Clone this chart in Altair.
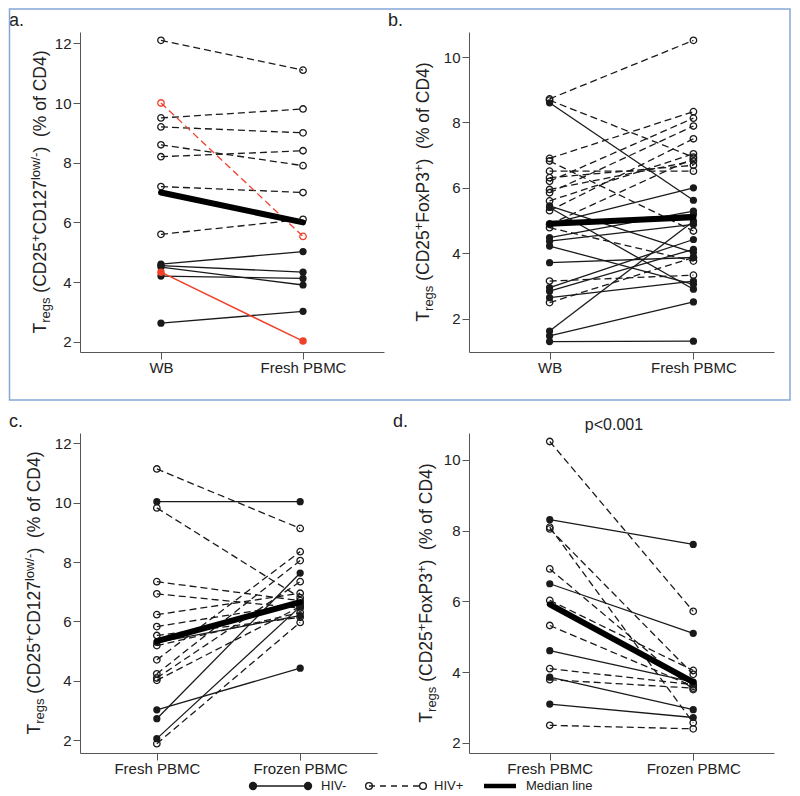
import altair as alt
import pandas as pd

FONT = "Liberation Sans"
INK = "#1a1a1a"
RED = "#f0402a"
AXIS = "#555555"
LABEL = "#222222"
BORDER = "#86a6d8"

# ---------------- data ----------------
# Panel a: WB vs Fresh PBMC, Tregs CD25+CD127low/-
a_conds = ["WB", "Fresh PBMC"]
a_neg_pre = [4.60, 4.55, 4.50, 4.20, 2.62]
a_neg_post = [5.02, 4.33, 3.90, 4.12, 3.02]
a_pos_pre = [12.1, 9.5, 9.2, 8.6, 8.2, 7.2, 5.6]
a_pos_post = [11.1, 9.8, 9.0, 7.9, 8.4, 7.0, 6.1]
a_red_neg = [4.33, 2.02]
a_red_pos = [10.0, 5.53]
a_median = [7.0, 6.0]
a_ticks = [2, 4, 6, 8, 10, 12]

# Panel b: WB vs Fresh PBMC, Tregs CD25+FoxP3+
b_conds = ["WB", "Fresh PBMC"]
b_neg_pre = [8.60, 5.45, 5.40, 4.90, 4.90, 4.48, 4.37, 4.22, 3.71, 2.95, 2.84, 2.64, 1.62, 1.47, 1.30]
b_neg_post = [5.62, 4.02, 2.90, 6.00, 5.19, 5.29, 4.88, 3.05, 3.87, 4.42, 4.12, 3.15, 4.98, 2.51, 1.31]
b_pos_pre = [8.72, 8.68, 6.90, 6.82, 6.51, 6.31, 6.20, 5.95, 5.85, 5.60, 5.30, 4.88, 4.78, 3.15, 2.49]
b_pos_post = [10.51, 6.94, 8.33, 4.68, 6.51, 6.69, 8.13, 6.82, 7.89, 7.04, 7.50, 6.90, 3.76, 3.33, 3.87]
b_median = [4.90, 5.10]
b_ticks = [2, 4, 6, 8, 10]

# Panel c: Fresh vs Frozen PBMC, Tregs CD25+CD127low/-
c_conds = ["Fresh PBMC", "Frozen PBMC"]
c_neg_pre = [10.03, 5.30, 3.03, 2.73, 2.06]
c_neg_post = [10.03, 6.20, 4.43, 7.63, 6.50]
c_pos_pre = [11.13, 9.82, 7.34, 6.93, 6.23, 5.83, 5.53, 5.19, 4.71, 4.24, 4.10, 4.02, 1.89]
c_pos_post = [9.13, 6.80, 6.70, 6.45, 6.95, 6.60, 6.14, 6.30, 8.35, 8.05, 7.34, 6.50, 5.97]
c_median = [5.34, 6.65]
c_ticks = [2, 4, 6, 8, 10, 12]

# Panel d: Fresh vs Frozen PBMC, Tregs CD25+FoxP3+
d_conds = ["Fresh PBMC", "Frozen PBMC"]
d_neg_pre = [8.31, 6.50, 4.61, 3.86, 3.10]
d_neg_post = [7.61, 5.10, 3.72, 2.94, 2.72]
d_pos_pre = [10.52, 8.10, 8.05, 6.92, 6.03, 5.32, 4.10, 3.79, 2.50]
d_pos_post = [5.72, 2.57, 3.94, 3.51, 4.05, 3.60, 3.65, 3.55, 2.40]
d_median = [5.92, 3.72]
d_ticks = [2, 4, 6, 8, 10]

# --------------- helpers ---------------
METRICS = {" ": 278, "\u00a0": 278, "(": 333, ")": 333, "%": 889, "+": 584, "-": 333,
           "/": 278, ".": 278, "<": 584, "C": 722, "D": 722, "F": 611, "P": 667,
           "T": 611, "B": 667, "M": 833, "W": 944, "a": 556, "e": 556, "f": 278,
           "g": 556, "h": 556, "i": 222, "l": 222, "n": 556, "o": 556, "r": 333,
           "s": 500, "w": 722, "x": 500, "d": 556, "p": 556}


def text_width(s, size):
    return sum(METRICS.get(ch, 556) for ch in s) * size / 1000.0


ONE = pd.DataFrame({"k": [0]})


def one_text(txt, x, y, size, angle=None, align="left", baseline="alphabetic",
             dx=0, dy=0, color=LABEL):
    kw = dict(text=txt, fontSize=size, align=align, baseline=baseline,
              color=color, font=FONT)
    if angle is not None:
        kw["angle"] = angle
    if dx:
        kw["dx"] = dx
    if dy:
        kw["dy"] = dy
    return alt.Chart(ONE).mark_text(**kw).encode(x=alt.value(x), y=alt.value(y))


def long_df(conds, pre, post, prefix):
    rows = []
    for i, (u, v) in enumerate(zip(pre, post)):
        rows.append({"id": f"{prefix}{i}", "cond": conds[0], "value": u})
        rows.append({"id": f"{prefix}{i}", "cond": conds[1], "value": v})
    return pd.DataFrame(rows)


MAIN, SMALL = 17.5, 13


def ytitle(segs, x, yc):
    # segs: (text, kind, leading_gap_in_spaces)
    parts = []
    total = 0
    for t, kind, gap in segs:
        size = MAIN if kind == "n" else SMALL
        total += gap * 278 * size / 1000.0
        parts.append((t, kind, size, total))
        total += text_width(t, size)
    ybot = yc + total / 2
    layers = []
    for t, kind, size, off in parts:
        dy = 0 if kind == "n" else (4 if kind == "sub" else -6.5)
        layers.append(one_text(t, x, ybot, size, angle=270, dx=off, dy=dy))
    return layers


SEG_CD127 = [("T", "n", 0), ("regs", "sub", 0), ("(CD25", "n", 1), ("+", "sup", 0),
             ("CD127", "n", 0), ("low/-", "sup", 0), (")", "n", 0), ("(% of CD4)", "n", 2)]
SEG_FOXP3 = [("T", "n", 0), ("regs", "sub", 0), ("(CD25", "n", 1), ("+", "sup", 0),
             ("FoxP3", "n", 0), ("+", "sup", 0), (")", "n", 0), ("(% of CD4)", "n", 2)]

H = 320


def panel(conds, neg_pre, neg_post, pos_pre, pos_post, median, domain, ticks,
          width, pad, segs, title_x, label, label_xy,
          red_neg=None, red_pos=None, extra=None):
    xenc = alt.X("cond:N",
                 scale=alt.Scale(type="point", domain=conds, padding=pad),
                 axis=alt.Axis(title=None, labelAngle=0, tickSize=7, labelPadding=1,
                               labelFontSize=15, labelColor=LABEL, labelFont=FONT,
                               domainColor=AXIS, tickColor=AXIS, grid=False))
    yenc = alt.Y("value:Q",
                 scale=alt.Scale(domain=domain, nice=False, zero=False),
                 axis=alt.Axis(title=None, values=ticks, format="d", tickSize=7,
                               labelPadding=2, labelFontSize=15, labelColor=LABEL,
                               labelFont=FONT, domainColor=AXIS, tickColor=AXIS,
                               grid=False))
    neg = long_df(conds, neg_pre, neg_post, "n")
    pos = long_df(conds, pos_pre, pos_post, "p")
    med = long_df(conds, [median[0]], [median[1]], "m")
    layers = [
        alt.Chart(pos).mark_line(color=INK, strokeWidth=1.3, strokeDash=[7, 4])
        .encode(x=xenc, y=yenc, detail="id:N"),
        alt.Chart(neg).mark_line(color=INK, strokeWidth=1.3)
        .encode(x=xenc, y=yenc, detail="id:N"),
    ]
    if red_neg is not None:
        rn = long_df(conds, [red_neg[0]], [red_neg[1]], "rn")
        rp = long_df(conds, [red_pos[0]], [red_pos[1]], "rp")
        layers += [
            alt.Chart(rp).mark_line(color=RED, strokeWidth=1.3, strokeDash=[7, 4])
            .encode(x=xenc, y=yenc, detail="id:N"),
            alt.Chart(rn).mark_line(color=RED, strokeWidth=1.5)
            .encode(x=xenc, y=yenc, detail="id:N"),
        ]
    layers += [
        alt.Chart(pos).mark_point(shape="circle", filled=False, size=42, strokeWidth=1.3,
                                  color=INK, opacity=1).encode(x=xenc, y=yenc),
        alt.Chart(neg).mark_point(shape="circle", filled=True, size=52,
                                  color=INK, opacity=1).encode(x=xenc, y=yenc),
    ]
    if red_neg is not None:
        layers += [
            alt.Chart(rp).mark_point(shape="circle", filled=False, size=42, strokeWidth=1.3,
                                     color=RED, opacity=1).encode(x=xenc, y=yenc),
            alt.Chart(rn).mark_point(shape="circle", filled=True, size=56,
                                     color=RED, opacity=1).encode(x=xenc, y=yenc),
        ]
    layers.append(alt.Chart(med).mark_line(color="#000000", strokeWidth=6, strokeCap="round")
                  .encode(x=xenc, y=yenc, detail="id:N"))
    layers += ytitle(segs, title_x, H / 2)
    layers.append(one_text(label, label_xy[0], label_xy[1], 18))
    if extra:
        layers += extra
    return alt.layer(*layers).properties(width=width, height=H)


# decorations
border = alt.Chart(ONE).mark_rect(fillOpacity=0, stroke=BORDER, strokeWidth=1.5).encode(
    x=alt.value(-70.5), x2=alt.value(710), y=alt.value(-23), y2=alt.value(368))

LY = 353
legend = [
    alt.Chart(ONE).mark_rule(color=INK, strokeWidth=1.3).encode(
        x=alt.value(173), x2=alt.value(228), y=alt.value(LY)),
    alt.Chart(pd.DataFrame({"px": [173, 228]})).mark_point(
        shape="circle", filled=True, size=70, color=INK, opacity=1).encode(
        x=alt.X("px:Q", scale=None), y=alt.value(LY)),
    one_text("HIV-", 241, LY, 13, baseline="middle"),
    alt.Chart(ONE).mark_rule(color=INK, strokeWidth=1.3, strokeDash=[6, 5]).encode(
        x=alt.value(289), x2=alt.value(343), y=alt.value(LY)),
    alt.Chart(pd.DataFrame({"px": [289, 343]})).mark_point(
        shape="circle", filled=False, size=46, strokeWidth=1.3, color=INK, opacity=1).encode(
        x=alt.X("px:Q", scale=None), y=alt.value(LY)),
    one_text("HIV+", 354, LY, 13, baseline="middle"),
    alt.Chart(ONE).mark_rule(color="#000000", strokeWidth=4.5).encode(
        x=alt.value(404), x2=alt.value(436), y=alt.value(LY)),
    one_text("Median line", 446, LY, 13, baseline="middle"),
]

pa = panel(a_conds, a_neg_pre, a_neg_post, a_pos_pre, a_pos_post, a_median,
           [1.655, 12.38], a_ticks, 304, 0.57, SEG_CD127, -34, "a.", (-71, -6),
           red_neg=a_red_neg, red_pos=a_red_pos, extra=[border])
pb = panel(b_conds, b_neg_pre, b_neg_post, b_pos_pre, b_pos_post, b_median,
           [0.98, 10.765], b_ticks, 305, 0.56, SEG_FOXP3, -40, "b.", (-81, -6))
pc = panel(c_conds, c_neg_pre, c_neg_post, c_pos_pre, c_pos_post, c_median,
           [1.577, 12.34], c_ticks, 297, 0.536, SEG_CD127, -40, "c.", (-71, -6),
           extra=legend)
pd_ = panel(d_conds, d_neg_pre, d_neg_post, d_pos_pre, d_pos_post, d_median,
            [1.717, 10.76], d_ticks, 305, 0.563, SEG_FOXP3, -37, "d.", (-76, -6),
            extra=[one_text("p<0.001", 145, -3, 16, align="center")])

chart = alt.concat(
    pa, pb, pc, pd_, columns=2,
    spacing=alt.RowColnumber(row=81, column=85),
    bounds="flush",
).properties(padding=0).configure(font=FONT).configure_view(stroke=None)

chart.save("out.html", embed_options={"renderer": "svg", "actions": False})
